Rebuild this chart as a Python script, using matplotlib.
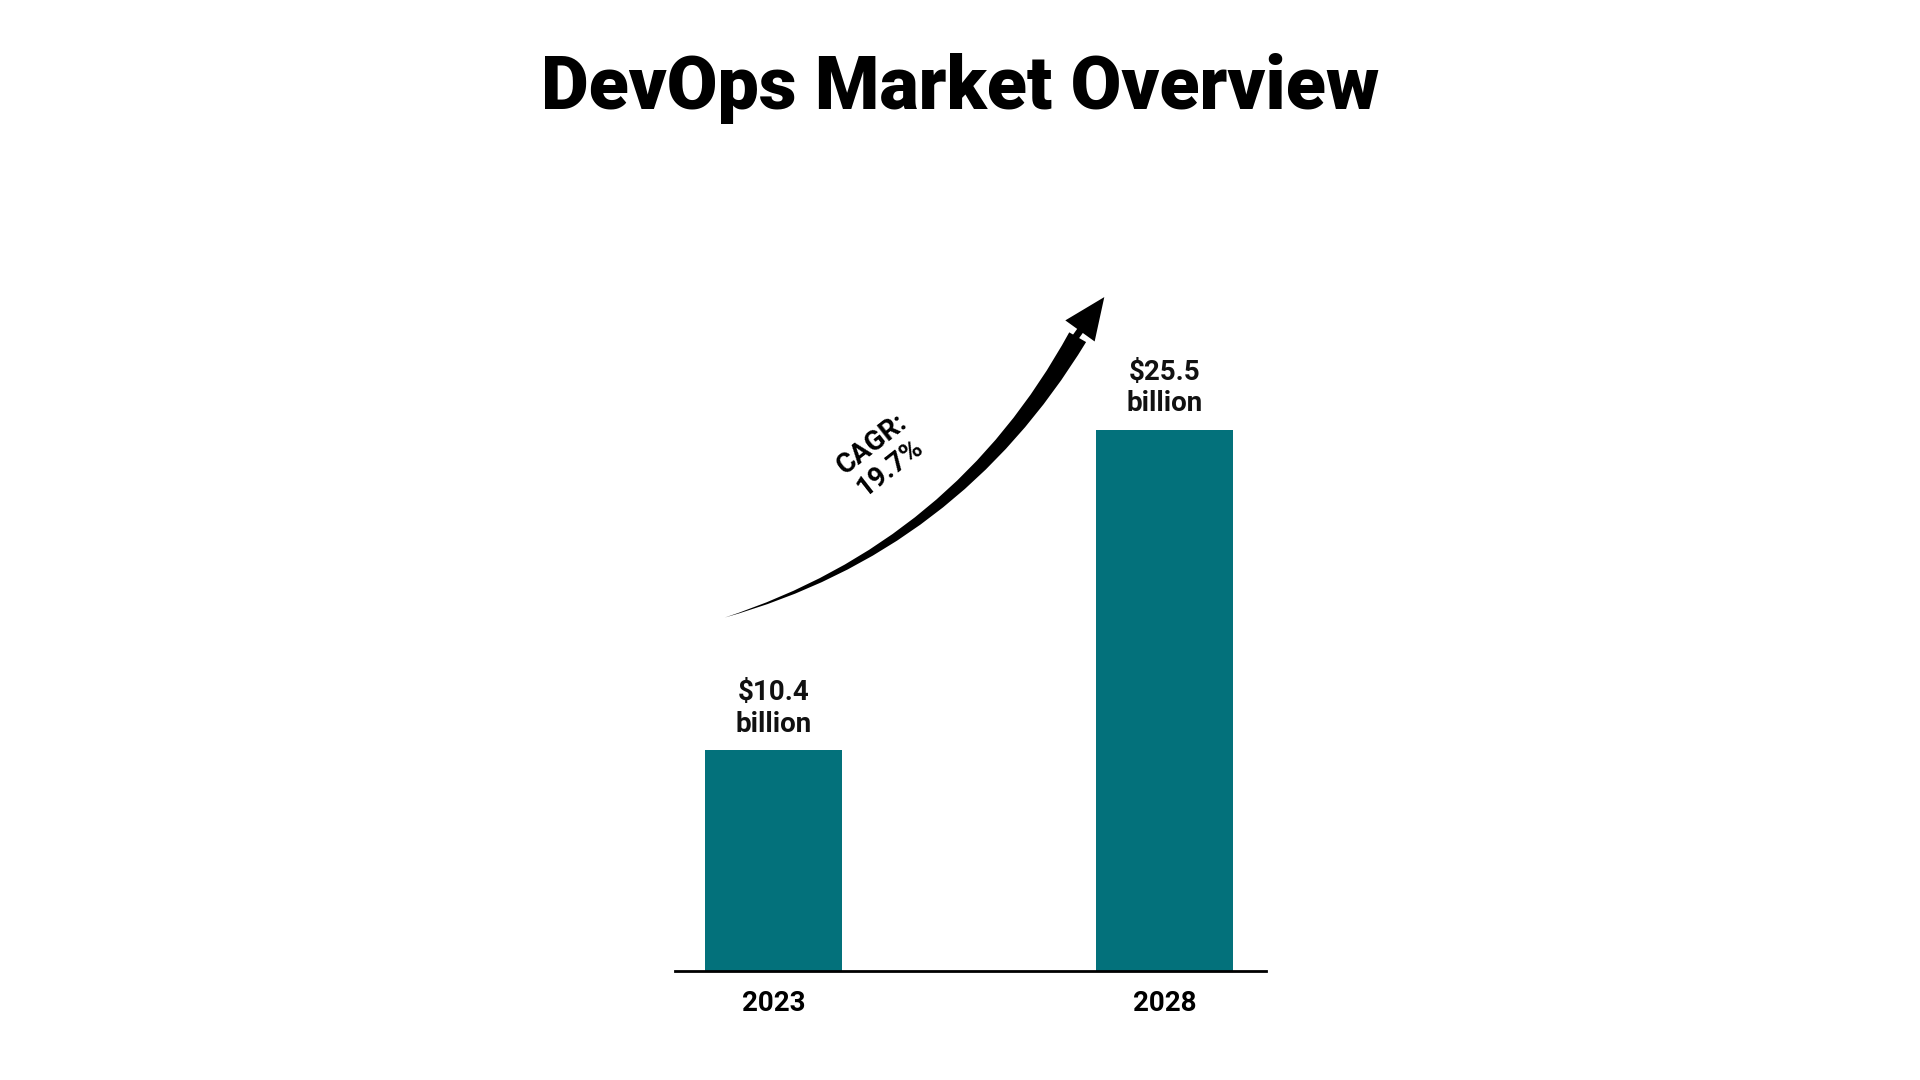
import matplotlib.pyplot as plt

years = ["2023", "2028"]
values = [10.4, 25.5]
value_labels = ["$10.4\nbillion", "$25.5\nbillion"]
cagr_text = "CAGR:\n19.7%"

plt.rcParams["font.family"] = "Roboto"

fig = plt.figure(figsize=(19.2, 10.8), dpi=100)
ax = fig.add_axes([0.3514, 0.1009, 0.308, 0.5895])

x = range(len(years))
ax.bar(x, values, width=0.351, color="#03717b")
ax.set_xlim(-0.254, 1.26)
ax.set_ylim(0, 30)

for i, (v, lab) in enumerate(zip(values, value_labels)):
    ax.text(i, v + 0.6, lab.replace("$", r"\$"), ha="center", va="bottom",
            fontsize=20, fontweight="bold", linespacing=1.2, color="#111111")

ax.set_xticks(list(x))
ax.set_xticklabels(years, fontsize=20, fontweight="bold")
ax.tick_params(axis="x", length=0, pad=14)
ax.set_yticks([])
for s in ["top", "right", "left"]:
    ax.spines[s].set_visible(False)
ax.spines["bottom"].set_linewidth(2)

fig.text(0.5, 0.918, "DevOps Market Overview", ha="center", va="center",
         fontsize=53, fontweight="black", color="black")

# tapered shaft: thin at the start, thick near the head
ax.annotate("", xy=(0.376, 0.4274), xytext=(0.562, 0.69),
            xycoords="figure fraction", textcoords="figure fraction",
            arrowprops=dict(arrowstyle="wedge,tail_width=1.4,shrink_factor=0.5",
                            connectionstyle="arc3,rad=-0.2", color="black", lw=0))
ax.annotate("", xy=(0.576, 0.727), xytext=(0.557, 0.68),
            xycoords="figure fraction", textcoords="figure fraction",
            arrowprops=dict(arrowstyle="simple,head_width=2.6,head_length=3.0,tail_width=0.5",
                            color="black", lw=0))

fig.text(0.459, 0.578, cagr_text, ha="center", va="center", rotation=38,
         fontsize=20, fontweight="bold", linespacing=1.1)

fig.savefig("out.png", dpi=100, facecolor="white")
